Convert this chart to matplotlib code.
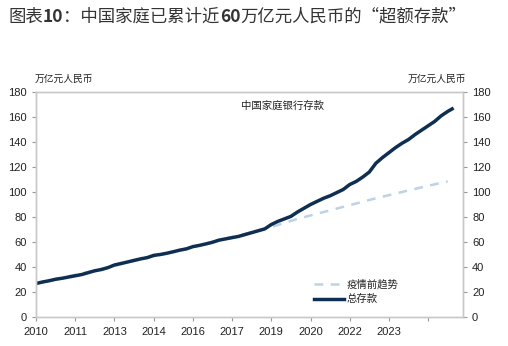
import matplotlib
matplotlib.use("Agg")
import matplotlib.pyplot as plt

plt.rcParams['font.family'] = ['Liberation Sans', 'Noto Sans CJK SC', 'DejaVu Sans']

# months counted from 2010-01, quarterly readings
months = [0, 3, 6, 9, 12, 15, 18, 21, 24, 27, 30, 33, 36, 39, 42, 45, 48, 51, 54, 57,
          60, 63, 66, 69, 72, 75, 78, 81, 84, 87, 90, 93, 96, 99, 102, 105, 108, 111, 114, 117,
          120, 123, 126, 129, 132, 135, 138, 141, 144, 147, 150, 153, 156, 159, 162, 165, 168, 171, 174, 177,
          180, 183, 186, 189, 191]
total = [26.8, 28.0, 29.0, 30.2, 31.0, 32.0, 33.0, 34.0, 35.5, 37.0, 38.0, 39.5, 41.6, 42.8, 44.0, 45.3, 46.5, 47.5, 49.3, 50.0,
         51.0, 52.2, 53.5, 54.5, 56.3, 57.3, 58.5, 59.8, 61.5, 62.5, 63.5, 64.5, 66.0, 67.5, 69.0, 70.5, 74.0, 76.5, 78.5, 80.5,
         84.0, 87.0, 90.0, 92.5, 95.0, 97.0, 99.5, 102.0, 106.0, 108.5, 112.0, 116.0, 123.0, 127.5, 131.5, 135.5, 139.0, 142.0, 146.0, 149.5,
         153.0, 156.5, 161.0, 164.5, 166.5]

trend_months = [0, 12, 24, 36, 48, 60, 72, 84, 96, 108, 120, 132, 144, 156, 168, 180, 189]
trend = [27.0, 31.5, 36.0, 41.0, 46.0, 51.0, 56.0, 61.5, 66.5, 72.0, 78.5, 84.0, 89.5, 95.0, 100.0, 105.0, 108.5]

tick_pos = [0, 18, 36, 54, 72, 90, 108, 126, 144, 162, 180]
tick_labels = ["2010", "2011", "2013", "2014", "2016", "2017", "2019", "2020", "2022", "2023", ""]

fig = plt.figure(figsize=(5.08, 3.46), dpi=100)
ax = fig.add_axes([0.0709, 0.0838, 0.8405, 0.6502])

ax.plot(trend_months, trend, color="#bcd2e6", lw=1.8, dashes=(3.5, 3), label="疫情前趋势")
ax.plot(months, total, color="#0e2f52", lw=2.5, label="总存款")

ax.set_xlim(0, 196)
ax.set_ylim(0, 180)
ax.set_yticks(range(0, 181, 20))
ax.set_xticks(tick_pos)
ax.set_xticklabels(tick_labels)

ax2 = ax.twinx()
ax2.set_ylim(0, 180)
ax2.set_yticks(range(0, 181, 20))

for a in (ax, ax2):
    for s in a.spines.values():
        s.set_color("#c8c8c8")
        s.set_linewidth(1.0)
    a.tick_params(colors="#999999", labelcolor="#222222", labelsize=8, length=3, width=0.8)
ax.tick_params(axis="x", pad=4)

ax.text(0.48, 0.938, "中国家庭银行存款", transform=ax.transAxes, fontsize=7.5, color="#222222",
        va="center")
fig.text(0.069, 0.762, "万亿元人民币", fontsize=7, color="#222222")
fig.text(0.803, 0.762, "万亿元人民币", fontsize=7, color="#222222")

leg = ax.legend(loc="lower left", bbox_to_anchor=(0.63, 0.015), frameon=False, fontsize=7.5,
                handlelength=2.8, handletextpad=0.3, labelspacing=0.45)
for t in leg.get_texts():
    t.set_color("#222222")

# title with bold digits, pieced together left to right
pieces = [("图表", "normal"), ("10", "bold"), ("：中国家庭已累计近", "normal"), ("60", "bold"),
          ("万亿元人民币的“超额存款”", "normal")]
fig.canvas.draw()
r = fig.canvas.get_renderer()
x = 0.016
for txt, w in pieces:
    t = fig.text(x, 0.952, txt, fontsize=12.5, fontweight=w, color="#333333", va="center",
                 family=['Noto Sans CJK SC', 'DejaVu Sans'])
    bb = t.get_window_extent(renderer=r)
    x += bb.width / fig.bbox.width

fig.savefig("out.png", dpi=100)
